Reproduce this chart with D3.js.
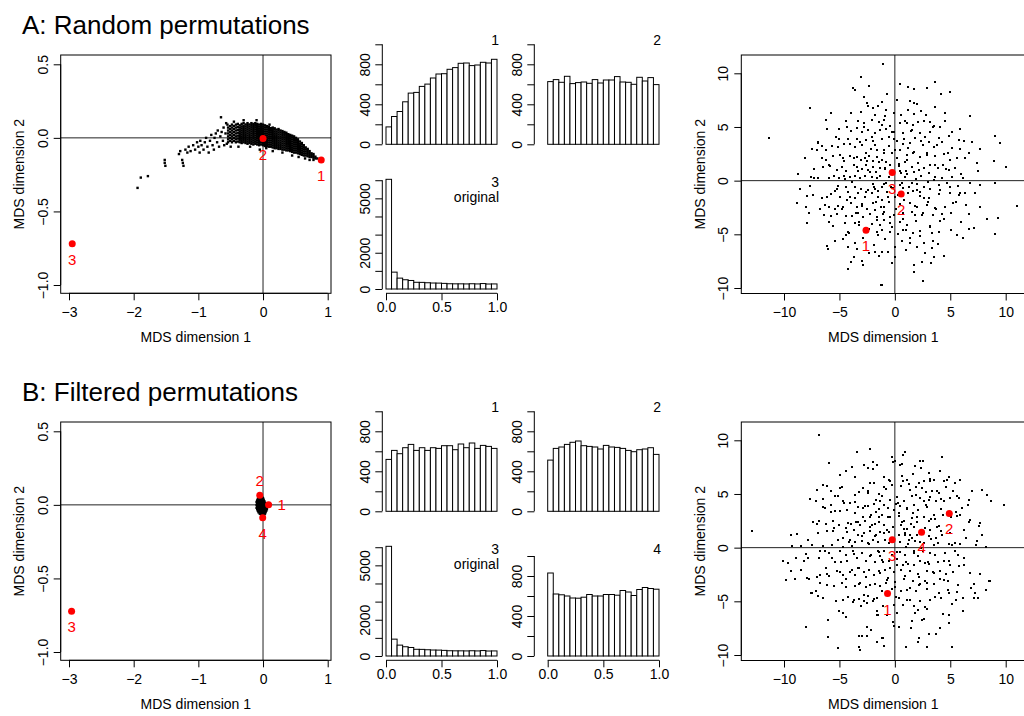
<!DOCTYPE html>
<html><head><meta charset="utf-8">
<script src="https://cdn.jsdelivr.net/npm/d3@7"></script>
<style>
body{margin:0;background:#fff}
text{font-family:"Liberation Sans",Arial,Helvetica,sans-serif}
</style>
</head><body>
<svg id="c" width="1024" height="716"></svg>
<script>
// ================= DATA =================
const panelTitles = ["A: Random permutations", "B: Filtered permutations"];
const axisTitleX = "MDS dimension 1";
const axisTitleY = "MDS dimension 2";

const leftXTicks = [-3, -2, -1, 0, 1];
const leftYTicks = [-1.0, -0.5, 0.0, 0.5];
const rightXTicks = [-10, -5, 0, 5, 10];
const rightYTicks = [-10, -5, 0, 5, 10];

const histBins = [0,0.05,0.1,0.15,0.2,0.25,0.3,0.35,0.4,0.45,0.5,0.55,0.6,0.65,0.7,0.75,0.8,0.85,0.9,0.95,1.0];
const histXTicks = [0, 0.5, 1.0];
const histYTicksSmall = [0, 200, 400, 600, 800, 1000];
const histYLabelsSmall = [0, 400, 800];
const histYTicksBig = [0, 1000, 2000, 3000, 4000, 5000, 6000];
const histYLabelsBig = [0, 2000, 5000];

const histA1 = [174,278,328,425,512,519,579,602,663,703,706,750,767,810,813,787,793,820,813,850];
const histA2 = [627,647,620,680,607,617,623,610,647,613,643,643,677,623,620,600,670,633,667,597];
const histOriginal = [6050,930,600,510,470,370,365,345,330,325,310,290,285,285,280,290,280,300,275,280];
const histB1 = [519,609,576,636,669,609,636,609,636,629,656,656,616,673,636,683,629,659,649,629];
const histB2 = [512,629,643,669,690,703,656,649,643,623,659,643,639,629,609,596,616,623,636,569];
const histB4 = [830,620,612,600,580,578,588,615,600,600,615,615,608,655,640,605,665,685,675,668];

// highlighted permutations (red)
const redLeftA = [{id:"1",x:0.9,y:-0.15},{id:"2",x:0.0,y:-0.005},{id:"3",x:-2.95,y:-0.72}];
const redLeftB = [{id:"1",x:0.086,y:0.0},{id:"2",x:-0.05,y:0.065},{id:"3",x:-2.96,y:-0.723},{id:"4",x:-0.005,y:-0.088}];
const redRightA = [{id:"1",x:-2.6,y:-4.62},{id:"2",x:0.57,y:-1.24},{id:"3",x:-0.24,y:0.75}];
const redRightB = [{id:"1",x:-0.66,y:-4.28},{id:"2",x:4.91,y:3.19},{id:"3",x:-0.24,y:0.74},{id:"4",x:2.41,y:1.43}];

// MDS of random permutations (panel A, left): dense arc, listed by columns [x, [y...]]
const arcCols = [
[-0.54,[-0.03,-0.01,0.01,0.03,0.05,0.07]],
[-0.51,[-0.02,0.0,0.02,0.04,0.06,0.08]],
[-0.48,[-0.03,-0.01,0.01,0.03,0.05,0.07,0.09]],
[-0.45,[-0.02,0.0,0.02,0.04,0.06,0.08]],
[-0.42,[-0.03,-0.01,0.01,0.03,0.05,0.07,0.09]],
[-0.39,[-0.025,-0.005,0.015,0.035,0.055,0.075,0.095]],
[-0.36,[-0.03,-0.014,0.0,0.014,0.028,0.042,0.056,0.07,0.085]],
[-0.33,[-0.035,-0.02,-0.006,0.008,0.022,0.036,0.05,0.064,0.078,0.095]],
[-0.30,[-0.03,-0.016,-0.002,0.012,0.026,0.04,0.054,0.068,0.082,0.1]],
[-0.27,[-0.035,-0.021,-0.007,0.007,0.021,0.035,0.049,0.063,0.077,0.091]],
[-0.24,[-0.04,-0.026,-0.012,0.002,0.016,0.03,0.044,0.058,0.072,0.086,0.1]],
[-0.21,[-0.035,-0.021,-0.007,0.007,0.021,0.035,0.049,0.063,0.077,0.091]],
[-0.18,[-0.04,-0.026,-0.012,0.002,0.016,0.03,0.044,0.058,0.072,0.086,0.1]],
[-0.15,[-0.045,-0.031,-0.017,-0.003,0.011,0.025,0.039,0.053,0.067,0.081,0.095]],
[-0.12,[-0.04,-0.026,-0.012,0.002,0.016,0.03,0.044,0.058,0.072,0.086,0.1]],
[-0.09,[-0.045,-0.031,-0.017,-0.003,0.011,0.025,0.039,0.053,0.067,0.081,0.095]],
[-0.06,[-0.05,-0.036,-0.022,-0.008,0.006,0.02,0.034,0.048,0.062,0.076,0.09]],
[-0.03,[-0.045,-0.031,-0.017,-0.003,0.011,0.025,0.039,0.053,0.067,0.081,0.095]],
[0.00,[-0.05,-0.036,-0.022,-0.008,0.006,0.02,0.034,0.048,0.062,0.076,0.09]],
[0.03,[-0.055,-0.041,-0.027,-0.013,0.001,0.015,0.029,0.043,0.057,0.071,0.085]],
[0.06,[-0.055,-0.041,-0.027,-0.013,0.001,0.015,0.029,0.043,0.057,0.071,0.08]],
[0.09,[-0.06,-0.046,-0.032,-0.018,-0.004,0.01,0.024,0.038,0.052,0.066,0.075]],
[0.12,[-0.06,-0.046,-0.032,-0.018,-0.004,0.01,0.024,0.038,0.052,0.066]],
[0.15,[-0.065,-0.051,-0.037,-0.023,-0.009,0.005,0.019,0.033,0.047,0.061,0.07]],
[0.18,[-0.07,-0.056,-0.042,-0.028,-0.014,0.0,0.014,0.028,0.042,0.056,0.065]],
[0.21,[-0.07,-0.056,-0.042,-0.028,-0.014,0.0,0.014,0.028,0.042,0.056]],
[0.24,[-0.075,-0.061,-0.047,-0.033,-0.019,-0.005,0.009,0.023,0.037,0.051,0.06]],
[0.27,[-0.075,-0.061,-0.047,-0.033,-0.019,-0.005,0.009,0.023,0.037,0.05]],
[0.30,[-0.08,-0.066,-0.052,-0.038,-0.024,-0.01,0.004,0.018,0.032,0.046]],
[0.33,[-0.08,-0.066,-0.052,-0.038,-0.024,-0.01,0.004,0.018,0.032,0.04]],
[0.36,[-0.085,-0.071,-0.057,-0.043,-0.029,-0.015,-0.001,0.013,0.027,0.035]],
[0.39,[-0.085,-0.071,-0.057,-0.043,-0.029,-0.015,-0.001,0.013,0.025]],
[0.42,[-0.09,-0.076,-0.062,-0.048,-0.034,-0.02,-0.006,0.008,0.02]],
[0.45,[-0.095,-0.081,-0.067,-0.053,-0.039,-0.025,-0.011,0.003,0.015]],
[0.48,[-0.1,-0.086,-0.072,-0.058,-0.044,-0.03,-0.016,-0.002,0.01]],
[0.51,[-0.1,-0.086,-0.072,-0.058,-0.044,-0.03,-0.016,0.0]],
[0.54,[-0.105,-0.091,-0.077,-0.063,-0.049,-0.035,-0.021,-0.01]],
[0.57,[-0.11,-0.096,-0.082,-0.068,-0.054,-0.04,-0.025]],
[0.60,[-0.115,-0.101,-0.087,-0.073,-0.059,-0.045,-0.035]],
[0.63,[-0.12,-0.106,-0.092,-0.078,-0.064,-0.05]],
[0.66,[-0.12,-0.106,-0.092,-0.078,-0.065]],
[0.69,[-0.125,-0.111,-0.097,-0.083,-0.075]],
[0.72,[-0.13,-0.116,-0.102,-0.09]],
[0.75,[-0.13,-0.118,-0.105]],
[0.78,[-0.135,-0.122,-0.11]],
[0.81,[-0.14,-0.128]],
[0.84,[-0.14]]
];
const arcSparse = [
[-1.94,-0.34],[-1.89,-0.27],[-1.78,-0.26],[-1.52,-0.15],[-1.52,-0.17],[-1.51,-0.19],[-1.25,-0.15],[-1.24,-0.17],
[-1.23,-0.19],[-1.3,-0.11],[-1.28,-0.09],[-1.2,-0.08],[-1.17,-0.1],[-1.15,-0.06],[-1.12,-0.09],[-1.08,-0.05],
[-1.05,-0.08],[-1.02,-0.03],[-1.0,-0.06],[-0.98,-0.1],[-0.97,-0.02],[-0.95,-0.05],[-0.92,-0.08],[-0.9,-0.03],
[-0.88,0.0],[-0.86,-0.06],[-0.84,-0.1],[-0.82,-0.02],[-0.8,0.02],[-0.78,-0.05],[-0.76,-0.08],[-0.75,0.0],
[-0.73,0.03],[-0.71,-0.03],[-0.7,0.05],[-0.68,-0.06],[-0.66,0.01],[-0.65,0.14],[-0.64,0.04],[-0.62,-0.02],
[-0.61,0.07],[-0.6,-0.05],[-0.58,0.03],[-0.57,0.1],[-0.56,-0.04],[-0.5,-0.06],[-0.45,0.11],[-0.3,0.12],
[-0.38,-0.06],[-0.2,-0.06],[-0.05,-0.08],[0.05,-0.07],[0.15,-0.09],[0.3,-0.1],[0.45,-0.12],[0.55,-0.13],
[0.65,-0.14],[0.72,-0.15],[0.78,-0.15],[-0.1,0.12],[0.1,0.09],[-0.55,0.09]
];
// MDS of filtered permutations (panel B, left): tight blob at origin, by columns
const blobCols = [
[-0.10,[-0.02,0.0,0.02]],[-0.09,[-0.03,-0.01,0.01,0.03]],[-0.08,[-0.04,-0.02,0.0,0.02,0.04]],
[-0.07,[-0.05,-0.03,-0.01,0.01,0.03,0.05]],[-0.06,[-0.05,-0.035,-0.02,-0.005,0.01,0.025,0.04,0.055]],
[-0.05,[-0.06,-0.045,-0.03,-0.015,0.0,0.015,0.03,0.045,0.06]],[-0.04,[-0.06,-0.045,-0.03,-0.015,0.0,0.015,0.03,0.045,0.06]],
[-0.03,[-0.065,-0.05,-0.035,-0.02,-0.005,0.01,0.025,0.04,0.055]],[-0.02,[-0.07,-0.055,-0.04,-0.025,-0.01,0.005,0.02,0.035,0.05]],
[-0.01,[-0.07,-0.055,-0.04,-0.025,-0.01,0.005,0.02,0.035,0.05]],[0.00,[-0.075,-0.06,-0.045,-0.03,-0.015,0.0,0.015,0.03,0.045]],
[0.01,[-0.07,-0.055,-0.04,-0.025,-0.01,0.005,0.02,0.035]],[0.02,[-0.065,-0.05,-0.035,-0.02,-0.005,0.01,0.025]],
[0.03,[-0.06,-0.045,-0.03,-0.015,0.0,0.015]],[0.04,[-0.05,-0.035,-0.02,-0.005,0.01]],
[0.05,[-0.04,-0.025,-0.01,0.005]],[0.06,[-0.03,-0.015,0.0]]
];

// MDS of original vs. permuted data (right panels)
const rightA = [
[-3.07,9.69],[-2.32,8.85],[-3.58,8.45],[-2.77,7.83],[-2.53,7.27],[-7.65,6.77],[-5.78,6.34],[-3.07,6.4],[-1.99,6.74],[-1.54,6.96],
[-6.2,5.65],[-4.4,5.56],[-3.28,5.59],[-2.77,5.4],[-2.08,5.65],[-1.78,6.1],[-1.39,5.5],[-11.35,4.0],[-6.14,4.81],[-5.03,4.81],
[-4.34,5.03],[-3.37,4.88],[-2.98,4.57],[-2.38,4.72],[-1.78,4.47],[-1.33,4.72],[-6.96,3.63],[-7.5,2.92],[-7.05,2.86],[-6.6,3.23],
[-5.69,3.23],[-5.3,4.04],[-5.09,3.17],[-4.58,3.39],[-4.25,3.85],[-4.04,3.42],[-3.58,3.17],[-3.43,3.85],[-2.98,3.32],[-2.59,3.79],
[-2.17,2.92],[-1.93,3.73],[-1.57,2.86],[-8.1,2.14],[-6.6,2.14],[-6.2,1.93],[-5.6,2.3],[-4.94,2.39],[-4.64,2.08],[-4.04,2.3],
[-3.43,2.24],[-3.07,1.93],[-2.68,2.08],[-2.29,2.3],[-1.99,1.86],[-1.63,2.24],[-1.17,1.93],[-6.5,1.24],[-5.84,1.37],[-5.24,0.99],
[-4.79,1.3],[-4.4,0.93],[-3.73,1.46],[-3.37,1.3],[-2.98,1.06],[-2.59,1.46],[-2.38,0.99],[-1.99,1.3],[-1.69,0.84],[-1.33,1.15],
[-8.7,0.62],[-7.59,0.37],[-7.29,0.22],[-6.9,0.28],[-5.9,0.22],[-5.0,0.22],[-4.58,0.43],[-4.04,0.37],[-3.58,0.43],[-3.13,0.28],
[-2.68,0.43],[-2.08,0.37],[-1.63,0.22],[-8.55,-0.75],[-7.65,-0.5],[-7.95,-1.43],[-7.35,-1.34],[-6.14,-1.49],[-5.78,-1.24],[-5.39,-0.93],
[-5.09,-0.5],[-4.94,-1.49],[-4.4,-0.56],[-4.19,-1.02],[-4.04,-1.55],[-3.58,-0.56],[-3.28,-1.18],[-3.07,-0.81],[-2.68,-1.49],[-2.44,-0.87],
[-2.08,-1.12],[-1.78,-0.81],[-1.48,-1.49],[-1.17,-0.56],[-8.85,-2.05],[-8.0,-2.48],[-7.7,-2.98],[-6.75,-2.67],[-6.39,-3.2],[-5.9,-2.42],
[-5.39,-2.67],[-5.09,-2.36],[-5.18,-3.11],[-4.64,-2.42],[-4.4,-3.29],[-3.98,-2.11],[-3.89,-3.29],[-3.43,-2.48],[-3.28,-3.04],[-2.98,-2.17],
[-2.83,-3.35],[-2.47,-2.67],[-2.23,-3.11],[-1.93,-2.11],[-1.78,-2.73],[-1.57,-3.35],[-1.27,-2.42],[-1.17,-1.8],[-5.93,-3.82],[-5.6,-4.22],
[-4.49,-3.91],[-3.58,-3.91],[-3.19,-3.82],[-2.08,-4.04],[-1.63,-4.75],[-1.33,-4.13],[-4.4,-5.06],[-4.1,-4.84],[-4.7,-5.47],[-6.14,-6.09],
[-6.05,-6.37],[-4.19,-6.15],[-3.58,-5.84],[-3.43,-6.4],[-2.83,-5.31],[-2.29,-6.71],[-1.78,-6.61],[-1.39,-7.02],[-3.73,-7.08],[-3.98,-7.55],
[-2.98,-7.45],[-4.25,-8.23],[-1.27,-9.72],
[-1.08,10.87],[0.48,9.0],[1.17,8.76],[1.69,8.57],[2.89,8.66],[3.64,9.19],[4.16,8.04],[5.0,8.26],[-1.17,7.3],[1.33,7.45],
[1.75,7.2],[-0.78,6.58],[-0.12,6.27],[0.54,6.12],[1.69,6.21],[2.35,6.49],[3.64,6.89],[6.81,6.02],[-0.96,5.65],[-0.42,5.09],
[0.42,5.4],[1.08,5.34],[1.63,5.19],[2.05,5.5],[2.59,5.59],[3.13,5.47],[3.55,5.09],[4.55,5.59],[-0.78,4.78],[-0.06,4.57],
[0.72,4.41],[1.54,4.72],[2.23,4.47],[3.19,4.57],[4.1,5.03],[5.9,4.84],[4.85,4.16],[5.75,3.79],[6.26,3.73],[6.96,3.6],
[9.07,4.16],[9.52,3.54],[-1.17,3.85],[-0.57,4.04],[0.18,3.73],[0.84,3.85],[1.33,3.48],[1.84,3.94],[2.53,3.32],[3.04,3.63],
[3.49,3.17],[4.25,3.63],[5.15,3.01],[5.84,2.92],[6.66,2.55],[7.72,2.95],[-0.96,2.86],[-0.27,2.55],[0.48,2.86],[1.08,2.39],
[1.75,2.7],[2.23,2.17],[2.89,2.61],[3.64,2.3],[4.46,2.48],[5.0,1.93],[5.6,2.08],[7.41,1.68],[8.98,1.83],[10.06,1.3],
[-0.84,1.77],[-0.48,1.46],[0.33,1.55],[0.93,1.77],[1.54,1.3],[2.05,1.61],[2.59,1.15],[3.19,1.46],[3.86,1.15],[4.34,1.46],
[4.85,0.99],[5.45,1.15],[-0.87,1.06],[0.54,0.75],[1.14,0.62],[1.69,0.84],[2.35,0.43],[3.04,0.68],[3.64,0.37],[4.25,0.22],
[5.15,0.37],[6.14,0.22],[-1.02,-0.31],[-0.36,-0.56],[0.42,-0.4],[0.78,-0.71],[1.54,-0.25],[1.99,-0.87],[2.59,-0.56],[3.19,-0.81],
[3.95,-0.4],[4.7,-0.25],[5.66,-0.5],[6.75,-0.25],[7.65,-0.4],[9.07,-0.25],[-0.72,-1.02],[0.03,-1.49],[1.23,-1.18],[2.29,-1.43],
[3.04,-1.65],[3.95,-1.24],[5.0,-1.12],[5.9,-1.18],[6.35,-1.18],[7.26,-1.12],[-0.57,-1.96],[0.48,-2.17],[1.39,-2.05],[1.99,-2.42],
[2.89,-2.27],[3.64,-2.58],[4.55,-2.42],[5.24,-2.11],[6.45,-2.27],[7.72,-2.42],[11.02,-2.33],[-0.96,-2.89],[-0.12,-3.2],[0.78,-3.04],
[1.54,-2.89],[2.44,-3.2],[3.43,-3.2],[4.25,-3.11],[5.06,-2.98],[-1.02,-3.67],[-0.42,-3.98],[0.42,-3.82],[1.08,-4.13],[1.93,-3.73],
[3.13,-4.22],[4.04,-3.73],[5.96,-3.82],[8.3,-3.57],[9.28,-3.51],[-1.17,-4.6],[-0.48,-4.75],[0.78,-4.6],[1.63,-4.84],[2.29,-4.66],
[3.34,-4.91],[3.95,-4.75],[5.6,-5.06],[6.14,-5.37],[6.66,-4.53],[9.07,-5.0],[-0.87,-5.47],[0.63,-5.59],[1.33,-5.37],[2.59,-5.84],
[3.43,-5.62],[0.03,-6.21],[1.02,-6.46],[1.99,-6.15],[3.34,-6.3],[-1.17,-6.61],[2.74,-6.77],[3.55,-7.14],[4.4,-7.02],[1.75,-7.86],
[2.44,-7.61],[-0.24,-7.7],[2.53,-9.32],[-1.17,-9.72],
[-0.5,3.2],[0.2,2.1],[-1.4,1.7],[0.9,0.3],[-0.8,-0.2],[1.6,-1.0],[-2.0,-0.3],[0.1,-2.6],[-1.1,-3.1],[2.2,1.0],
[3.0,-0.1],[-3.3,0.9],[-0.3,4.5],[1.2,3.0],[2.7,4.1],[-2.6,2.6],[-3.9,-0.1],[-0.6,-1.5],[0.7,-3.6],[1.8,-2.4],
[-1.7,-2.0],[2.5,-3.0],[3.6,1.5],[4.1,-0.9],[-4.6,1.8],[-5.2,-0.8],[-2.3,-4.5],[0.3,-5.0],[1.4,-5.8],[-3.5,-3.0],
[4.8,2.6],[5.5,-2.0],[-5.8,-3.3],[-6.2,2.9],[6.0,0.6],[-0.9,6.0],[2.0,7.1],[-4.0,6.3],[3.2,-4.3],[-1.9,-6.0],
[0.5,0.9],[-0.2,-0.7],[1.1,1.9],[-1.3,0.4],[0.8,-1.8],[-2.6,-1.1],[2.9,2.4],[-3.1,3.6],[1.5,4.6],[-0.1,3.9],
[3.8,3.3],[-4.3,-1.8],[-1.6,-3.7],[2.3,-5.2],[4.4,-3.6],[-5.0,3.9],[5.2,4.5],[-6.6,-1.6],[6.7,-3.1],[0.0,-7.1],
[-2.9,-7.9],[3.3,-7.7],[-0.7,8.1],[-3.8,8.6],[4.5,6.3],[-7.3,1.1],[7.5,0.9],[-7.9,-3.9],[7.1,-4.4],[-1.0,2.6],
[0.4,1.4],[1.9,0.2],[-2.2,0.8],[-0.4,-3.4],[1.0,-4.6],[2.6,-1.6],[-3.6,-1.6],[-1.2,5.2],[0.9,5.6],[3.4,5.0],
[-2.8,5.0],[-5.5,0.4],[5.0,-0.6],[-4.2,-4.8],[3.9,-5.9],[-0.6,-6.6],[1.7,-8.5],[-5.4,-5.6],[6.3,2.1],[-6.9,3.5],
[0.2,7.5],[-2.4,7.0],[2.8,6.1],[-1.8,3.3],[0.6,-0.2],[-0.9,1.2],[1.3,-0.6],[-1.5,-1.0],[2.0,-0.3],[-2.5,1.8],
[0.0,2.9],[1.6,2.6],[-3.0,-2.4],[2.4,3.7],[-0.3,-4.3],[3.0,-2.0],[-4.8,-2.6],[4.6,1.1],[-3.7,2.1],[0.7,3.4],
[-1.0,-2.5],[1.8,-3.2],[-2.1,4.1],[3.5,0.1],[-4.5,0.2],[0.3,-1.3],[-0.5,0.3],[1.0,0.9],[-1.9,-0.6],[2.3,-1.1],
[4.0,4.0],[-4.0,4.6],[-3.2,-4.1],[3.7,-2.6],[5.8,-1.3],[-5.9,1.5],[1.2,6.6],[-1.5,-5.1],[5.1,-4.6],[-6.3,-2.3]
];
const rightB = [
[-6.84,10.51],[-2.23,9.18],[-5.93,7.88],[-2.77,7.72],[-2.38,7.41],[-1.93,7.97],[-1.57,7.72],[-4.4,7.16],[-3.89,7.47],[-4.94,6.79],
[-6.51,5.86],[-6.08,5.71],[-6.99,5.4],[-5.78,5.3],[-4.94,5.55],[-4.79,5.61],[-3.19,5.18],[-2.89,5.55],[-2.23,6.02],[-1.87,6.0],
[-2.38,5.09],[-1.39,4.99],[-7.65,4.56],[-7.11,4.31],[-6.51,4.56],[-5.39,4.78],[-5.09,4.78],[-4.64,4.31],[-4.04,4.16],[-3.58,4.25],
[-3.28,3.75],[-2.89,3.69],[-2.38,3.84],[-1.87,4.06],[-1.33,4.31],[-6.3,3.69],[-5.78,3.94],[-5.39,3.44],[-4.94,3.38],[-4.34,3.53],
[-3.58,3.22],[-2.83,2.82],[-2.17,3.07],[-1.69,3.32],[-1.39,2.82],[-7.41,2.39],[-6.99,2.2],[-6.81,2.45],[-6.2,2.2],[-5.54,2.45],
[-5.0,2.08],[-4.4,1.83],[-3.98,2.2],[-3.49,2.39],[-3.13,2.08],[-2.68,2.51],[-2.23,1.89],[-1.78,2.2],[-1.39,2.39],[-6.08,1.52],
[-5.54,1.58],[-4.34,1.46],[-3.73,1.67],[-3.28,1.21],[-2.77,1.36],[-2.23,1.52],[-1.69,1.21],[-1.33,1.46],[-12.92,1.58],[-9.4,1.15],
[-8.86,1.27],[-7.8,0.74],[-4.64,0.9],[-4.04,0.74],[-3.58,0.53],[-2.98,0.65],[-2.38,0.43],[-1.93,0.74],[-1.48,0.53],[-9.31,0.19],
[-8.46,0.12],[-7.5,0.22],[-6.51,0.12],[-5.69,0.22],[-4.64,0.03],[-3.89,0.12],[-10.12,-1.27],[-9.61,-1.43],[-8.92,-0.96],[-8.19,-1.27],
[-8.01,-0.59],[-7.8,-0.96],[-6.75,-0.34],[-6.81,-0.96],[-6.3,-0.28],[-5.9,-0.5],[-5.69,-0.96],[-5.39,-1.33],[-4.94,-0.28],[-4.4,-0.65],
[-4.28,-1.27],[-3.8,-0.28],[-3.43,-0.96],[-2.98,-0.5],[-2.59,-1.27],[-2.17,-0.71],[-1.78,-1.33],[-1.33,-0.81],[-9.37,-2.14],[-8.46,-2.05],
[-9.82,-2.98],[-9.01,-2.88],[-7.89,-2.82],[-7.71,-2.88],[-6.99,-2.76],[-6.75,-2.51],[-6.08,-2.45],[-5.18,-2.14],[-4.94,-2.26],[-4.64,-2.51],
[-4.04,-2.26],[-3.58,-2.51],[-3.28,-1.89],[-2.77,-2.26],[-2.29,-2.05],[-1.87,-2.51],[-1.39,-2.2],[-6.75,-3.29],[-6.08,-3.5],[-4.79,-3.29],
[-4.4,-3.69],[-3.58,-3.6],[-3.13,-3.29],[-2.59,-3.69],[-2.23,-3.44],[-1.78,-3.38],[-1.33,-3.6],[-7.59,-4.22],[-7.11,-4.06],[-6.9,-4.53],
[-6.45,-4.68],[-5.3,-4.99],[-4.7,-4.84],[-4.19,-4.62],[-3.73,-4.84],[-3.19,-4.74],[-2.77,-4.93],[-2.38,-4.53],[-1.99,-4.99],[-1.57,-4.68],
[-3.07,-5.46],[-2.53,-5.15],[-1.63,-5.86],[-4.7,-6.08],[-4.4,-6.48],[-5.99,-6.7],[-1.57,-6.23],[-8.01,-7.38],[-2.53,-7.41],[-2.17,-7.63],
[-6.05,-8.31],[-3.19,-8.25],[-2.95,-8.25],[-1.63,-8.78],[-1.17,-8.4],[-5.15,-9.33],[-3.19,-9.27],[-3.13,-9.49],
[0.93,8.9],[0.72,8.59],[-0.18,7.97],[0.03,8.03],[0.42,7.72],[2.29,8.09],[2.53,8.09],[4.25,8.43],[1.84,7.63],[3.04,6.95],
[4.1,7.16],[-1.02,6.57],[-0.42,6.23],[0.63,6.64],[0.72,6.17],[1.08,6.33],[2.14,6.02],[2.65,6.17],[3.13,6.23],[3.49,6.33],
[4.46,6.17],[4.7,6.33],[5.42,5.98],[5.9,6.33],[-0.96,5.61],[-0.27,5.86],[0.54,5.71],[1.39,5.4],[1.93,5.61],[2.44,5.55],
[2.83,5.18],[3.34,5.3],[3.95,5.09],[4.64,5.61],[5.24,5.3],[6.96,5.24],[7.86,5.4],[-1.17,4.78],[-0.42,4.47],[0.18,4.68],
[0.84,4.37],[1.54,4.78],[2.23,4.62],[2.59,4.31],[3.19,4.68],[3.73,4.37],[4.16,4.56],[4.94,4.62],[5.75,4.62],[6.66,4.47],
[8.33,4.87],[8.7,4.37],[9.88,4.0],[-1.02,3.94],[-0.66,3.69],[-0.12,3.53],[0.42,3.84],[1.08,3.63],[1.69,3.94],[2.05,3.53],
[2.89,3.75],[3.55,3.07],[4.34,3.07],[5.54,3.32],[6.05,3.69],[6.57,3.94],[-1.17,3.07],[-0.48,2.82],[0.33,2.91],[0.84,2.51],
[1.54,2.76],[1.99,2.39],[2.59,2.82],[3.04,2.45],[3.64,2.7],[5.6,2.91],[5.9,3.07],[6.75,2.6],[7.65,2.29],[7.56,1.98],
[-0.96,2.14],[-0.18,1.89],[0.54,2.14],[1.14,1.77],[1.69,1.89],[3.19,1.67],[3.79,1.89],[4.16,1.58],[6.2,1.67],[-0.99,1.36],
[0.33,1.15],[0.93,1.36],[1.54,0.9],[1.99,1.15],[3.04,1.05],[3.73,0.9],[4.25,1.15],[-0.57,0.43],[0.48,0.53],[1.23,0.34],
[1.84,0.59],[2.59,0.43],[3.49,0.22],[4.85,0.34],[5.15,0.28],[5.45,0.43],[5.9,0.34],[7.41,0.59],[7.35,0.28],[8.2,0.03],
[-1.02,-0.34],[-0.27,-0.65],[0.42,-0.4],[0.93,-0.71],[1.69,-0.5],[2.53,-0.28],[3.13,-0.5],[3.64,-0.65],[4.55,-0.5],[5.66,-0.65],
[-1.17,-1.12],[-0.57,-1.27],[0.18,-1.58],[1.02,-1.33],[1.75,-1.58],[2.29,-1.21],[3.04,-1.52],[3.86,-1.33],[4.85,-1.21],[5.0,-1.58],
[6.2,-1.58],[-0.87,-2.05],[-0.12,-2.26],[0.54,-2.05],[1.39,-2.2],[2.05,-2.45],[2.89,-2.14],[3.49,-2.36],[4.1,-2.2],[4.64,-2.45],
[5.24,-2.26],[6.81,-2.36],[7.65,-2.45],[-0.72,-2.98],[0.03,-3.19],[0.84,-2.88],[1.63,-3.13],[2.23,-3.38],[2.74,-3.07],[3.49,-3.38],
[4.46,-2.98],[4.76,-3.13],[5.66,-3.44],[8.46,-3.07],[8.61,-3.07],[-0.27,-3.81],[0.54,-4.0],[1.33,-3.75],[1.93,-4.06],[2.89,-3.81],
[3.95,-4.22],[4.85,-4.22],[5.6,-4.12],[6.87,-3.75],[7.26,-4.22],[8.2,-3.91],[0.33,-4.68],[1.08,-4.84],[2.23,-4.93],[3.19,-4.84],
[4.16,-4.68],[6.14,-4.68],[7.17,-4.68],[-0.06,-5.3],[1.69,-5.46],[2.89,-5.67],[5.15,-5.24],[0.18,-6.08],[2.05,-5.77],[2.65,-6.6],
[2.44,-6.7],[4.85,-6.23],[6.14,-5.92],[-0.72,-6.23],[1.54,-6.79],[-0.06,-7.32],[1.45,-7.47],[4.1,-7.53],[4.85,-7.01],[3.04,-8.03],
[2.14,-8.4],[-1.08,-8.4],[-0.96,-9.18],[1.02,-9.27],[2.89,-9.21],[5.15,-9.21],
[0.6,2.4],[-0.7,1.6],[1.3,0.7],[-1.4,-0.4],[0.2,-1.1],[2.1,-0.8],[-2.3,0.3],[0.9,-2.6],[-0.8,-3.3],[2.7,1.8],
[3.3,0.8],[-3.0,1.1],[0.1,4.1],[1.6,3.2],[3.1,4.4],[-2.2,2.9],[-3.7,-0.6],[-0.4,-1.9],[1.1,-3.9],[2.2,-2.7],
[-1.3,-2.4],[2.9,-3.3],[4.0,2.0],[4.4,-1.2],[-4.2,2.3],[-4.9,-1.3],[-1.9,-4.8],[0.7,-5.3],[1.8,-6.1],[-3.2,-3.4],
[5.1,2.9],[5.8,-1.7],[-5.5,-3.6],[-5.8,3.3],[6.4,0.9],[-0.5,6.3],[2.4,7.4],[-3.6,6.6],[3.6,-4.6],[-1.5,-6.3],
[0.9,1.2],[0.2,-0.4],[1.5,2.2],[-0.9,0.7],[1.2,-1.5],[-2.2,-0.8],[3.3,2.7],[-2.7,3.9],[1.9,4.9],[0.3,4.2],
[4.2,3.6],[-3.9,-2.1],[-1.2,-4.0],[2.7,-5.5],[4.8,-3.9],[-4.6,4.2],[5.6,4.8],[-6.2,-1.9],[7.1,-3.4],[0.4,-7.4],
[-2.5,-8.2],[3.7,-8.0],[-0.3,8.4],[-3.4,8.9],[4.9,6.6],[-6.9,1.4],[7.9,1.2],[-7.5,-4.2],[7.5,-4.7],[-0.6,2.9],
[0.8,1.7],[2.3,0.5],[-1.8,1.1],[0.0,-3.7],[1.4,-4.9],[3.0,-1.3],[-3.2,-1.9],[-0.8,5.5],[1.3,5.9],[3.8,5.3],
[-2.4,5.3],[-5.1,0.7],[5.4,-0.3],[-3.8,-5.1],[4.3,-6.2],[-0.2,-6.9],[2.1,-8.8],[-5.0,-5.9],[6.7,2.4],[-6.5,3.8],
[0.6,7.8],[-2.0,7.3],[3.2,6.4],[-1.4,3.6],[1.0,0.1],[-0.5,1.5],[1.7,-0.3],[-1.1,-1.3],[2.4,0.0],[-2.1,2.1],
[0.4,3.2],[2.0,2.9],[-2.6,-2.7],[2.8,4.0],[0.1,-4.6],[3.4,-2.3],[-4.4,-2.9],[5.0,1.4],[-3.3,2.4],[1.1,3.7],
[-0.6,-2.8],[2.2,-3.5],[-1.7,4.4],[3.9,0.4],[-4.1,0.5],[0.7,-1.6],[-0.1,0.6],[1.4,1.2],[-1.5,-0.3],[2.7,-1.4],
[4.4,4.3],[-3.6,4.9],[-2.8,-4.4],[4.1,-2.9],[6.2,-1.0],[-5.5,1.8],[1.6,6.9],[-1.1,-5.4],[5.5,-4.9],[-5.9,-2.6]
];

// ================= DRAWING =================
const svg = d3.select("#c");
const RED = "#ff0000";
const fmt1 = d3.format(".1f"), fmt0 = d3.format("d");
const FS = 14;
const FSR = 15;

function expandCols(cols){ const out=[]; cols.forEach(c=>c[1].forEach(y=>out.push([c[0],y]))); return out; }

function scatterPanel(g, o){
  const x = d3.scaleLinear().domain(o.xd).range(o.xr);
  const y = d3.scaleLinear().domain(o.yd).range(o.yr);
  const [bl, br, bt, bb] = o.box;
  g.append("line").attr("x1",bl).attr("x2",br).attr("y1",y(0)).attr("y2",y(0)).attr("stroke","#222").attr("stroke-width",1);
  g.append("line").attr("x1",x(0)).attr("x2",x(0)).attr("y1",bt).attr("y2",bb).attr("stroke","#222").attr("stroke-width",1);
  const s = o.dot;
  const pg = g.append("g");
  if (o.crisp) pg.attr("shape-rendering","crispEdges");
  pg.selectAll("rect").data(o.pts).join("rect")
    .attr("x",d=>o.crisp?Math.round(x(d[0])-s/2):x(d[0])-s/2)
    .attr("y",d=>o.crisp?Math.round(y(d[1])-s/2):y(d[1])-s/2)
    .attr("width",s).attr("height",s).attr("fill","#000");
  g.append("rect").attr("x",bl).attr("y",bt).attr("width",br-bl).attr("height",bb-bt)
    .attr("fill","none").attr("stroke","#000").attr("stroke-width",1);
  const ax = g.append("g").attr("transform",`translate(0,${bb})`)
    .call(d3.axisBottom(x).tickValues(o.xt).tickSize(7).tickSizeOuter(0).tickFormat(o.xf));
  ax.attr("font-family",null);
  ax.select(".domain").attr("d",`M${x(o.xt[0])},0H${x(o.xt[o.xt.length-1])}`);
  ax.selectAll("text").attr("y",18.4).attr("dy",null).attr("dominant-baseline","central").attr("font-size",FS);
  const ay = g.append("g").attr("transform",`translate(${bl},0)`)
    .call(d3.axisLeft(y).tickValues(o.yt).tickSize(7).tickSizeOuter(0).tickFormat(o.yf));
  ay.attr("font-family",null);
  ay.select(".domain").attr("d",`M0,${y(o.yt[0])}V${y(o.yt[o.yt.length-1])}`);
  ay.selectAll(".tick text").attr("x",null).attr("dy",null).attr("text-anchor","middle")
    .attr("dominant-baseline","central").attr("font-size",FS)
    .attr("transform","translate(-18.2,0) rotate(-90)");
  g.append("text").attr("x",(bl+br)/2).attr("y",336.7).attr("text-anchor","middle")
    .attr("dominant-baseline","central").attr("font-size",FS).text(axisTitleX);
  g.append("text").attr("transform",`translate(${bl-41.5},${(bt+bb)/2}) rotate(-90)`).attr("text-anchor","middle")
    .attr("dominant-baseline","central").attr("font-size",FS).text(axisTitleY);
  g.append("g").selectAll("circle").data(o.reds).join("circle")
    .attr("cx",d=>x(d.x)).attr("cy",d=>y(d.y)).attr("r",3.5).attr("fill",RED);
  g.append("g").selectAll("text").data(o.reds).join("text")
    .attr("x",d=>x(d.x)+((o.pos[d.id]||"b")==="r"?13:0))
    .attr("y",d=>{const p=o.pos[d.id]||"b"; return y(d.y)+(p==="b"?15.5:p==="t"?-15:0);})
    .attr("text-anchor","middle").attr("dominant-baseline","central")
    .attr("font-size",FSR).attr("fill",RED).text(d=>d.id);
}

function histPanel(g, o){
  const x = d3.scaleLinear().domain([0,1]).range(o.xr);
  const y = d3.scaleLinear().domain([0,o.ymax]).range([o.y0, o.y0 - o.ppc*o.ymax]);
  const bars = o.vals.map((v,i)=>({a:histBins[i], b:histBins[i+1], v}));
  g.append("g").selectAll("rect").data(bars).join("rect")
    .attr("x",d=>x(d.a)).attr("y",d=>y(d.v)).attr("width",d=>x(d.b)-x(d.a)).attr("height",d=>y(0)-y(d.v))
    .attr("fill","#fff").attr("stroke","#000").attr("stroke-width",1);
  const ay = g.append("g").attr("transform",`translate(${o.axx},0)`)
    .call(d3.axisLeft(y).tickValues(o.yt).tickSize(7).tickSizeOuter(0)
      .tickFormat(v=>o.yl.includes(v)?fmt0(v):""));
  ay.attr("font-family",null);
  ay.select(".domain").attr("d",`M0,${y(o.yt[0])}V${y(o.yt[o.yt.length-1])}`);
  ay.selectAll(".tick text").attr("x",null).attr("dy",null).attr("text-anchor","middle")
    .attr("dominant-baseline","central").attr("font-size",FS)
    .attr("transform","translate(-17,0) rotate(-90)");
  if (o.xaxis){
    const ax = g.append("g").attr("transform",`translate(0,${o.xaxis})`)
      .call(d3.axisBottom(x).tickValues(histXTicks).tickSize(7).tickSizeOuter(0).tickFormat(fmt1));
    ax.attr("font-family",null);
    ax.select(".domain").attr("d",`M${x(0)},0H${x(1)}`);
    ax.selectAll("text").attr("y",13.4).attr("dy",null).attr("dominant-baseline","central").attr("font-size",FS);
  }
  o.labels.forEach((t,i)=>{
    g.append("text").attr("x",x(1)+2).attr("y",o.ly + i*15).attr("text-anchor","end")
      .attr("dominant-baseline","central").attr("font-size",FS).text(t);
  });
}

const rows = [
  {dy:0, title:panelTitles[0], leftPts: expandCols(arcCols).concat(arcSparse), leftReds: redLeftA, leftPos:{},
   rightPts: rightA, rightReds: redRightA,
   hists:[{vals:histA1,lab:["1"],cell:0},{vals:histA2,lab:["2"],cell:1},{vals:histOriginal,lab:["3","original"],cell:2}]},
  {dy:367, title:panelTitles[1], leftPts: expandCols(blobCols), leftReds: redLeftB, leftPos:{"1":"r","2":"t"},
   rightPts: rightB, rightReds: redRightB,
   hists:[{vals:histB1,lab:["1"],cell:0},{vals:histB2,lab:["2"],cell:1},{vals:histOriginal,lab:["3","original"],cell:2},{vals:histB4,lab:["4"],cell:3}]}
];

rows.forEach(r=>{
  const g = svg.append("g").attr("transform",`translate(0,${r.dy})`);
  g.append("text").attr("x",22).attr("y",34).attr("font-size",26).text(r.title);
  scatterPanel(g.append("g"), {xd:[-3,1], yd:[-1,0.5], xr:[69,327.7], yr:[285,64.3],
    box:[60.7,331,55,293.3], xt:leftXTicks, yt:leftYTicks, xf:fmt0, yf:fmt1,
    pts:r.leftPts, reds:r.leftReds, pos:r.leftPos, dot:2.4, crisp:false});
  scatterPanel(g.append("g"), {xd:[-10,10], yd:[-10,10], xr:[784,1005.7], yr:[288,73.3],
    box:[741.3,1025.3,55,293.5], xt:rightXTicks, yt:rightYTicks, xf:fmt0, yf:fmt0,
    pts:r.rightPts, reds:r.rightReds, pos:{}, dot:2, crisp:true});
  r.hists.forEach(h=>{
    const col = h.cell%2, row = Math.floor(h.cell/2);
    const big = h.vals === histOriginal;
    histPanel(g.append("g"), {
      vals:h.vals, xr: col===0?[386,497]:[547.7,659], axx: col===0?382.3:534.3,
      y0: row===0?144.3:289, ymax: big?6000:1000, ppc: big?0.01813:0.1,
      yt: big?histYTicksBig:histYTicksSmall, yl: big?histYLabelsBig:histYLabelsSmall,
      xaxis: row===1?293.3:null, labels:h.lab, ly: row===0?40:182
    });
  });
});
</script>
</body></html>
